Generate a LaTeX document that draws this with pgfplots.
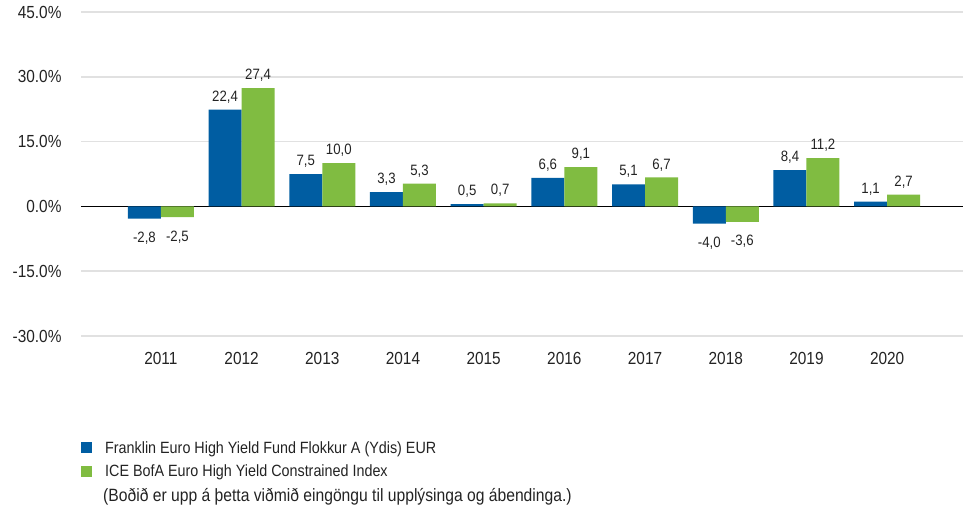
\documentclass[border=0pt]{standalone}
\usepackage{fontspec}
\setmainfont{Liberation Sans}[FakeStretch=0.88]
\usepackage{pgfplots}
\pgfplotsset{compat=1.18}
\definecolor{fblue}{RGB}{0,93,162}
\definecolor{fgreen}{RGB}{128,188,65}
\definecolor{gridgray}{RGB}{225,225,225}
\definecolor{txt}{RGB}{35,35,35}
\begin{document}
\begin{tikzpicture}[x=1pt,y=1pt]
\path[use as bounding box] (0,0) rectangle (963,507);
\begin{axis}[
  at={(81pt,171pt)}, anchor=south west,
  scale only axis, width=882pt, height=324pt,
  xmin=-0.99, xmax=9.94, ymin=-30, ymax=45,
  ytick={-30,-15,0,15,30,45},
  xtick={0,1,2,3,4,5,6,7,8,9},
  xticklabels={2011,2012,2013,2014,2015,2016,2017,2018,2019,2020},
  /pgf/number format/assume math mode=true,
  yticklabel={\pgfmathprintnumber[fixed,fixed zerofill,precision=1]{\tick}\%},
  ticklabel style={font=\fontsize{17.5}{20}\selectfont, text=txt},
  yticklabel style={xshift=-16pt},
  xticklabel style={yshift=-13pt},
  axis line style={draw=none},
  major tick length=0pt,
  ymajorgrids, major grid style={gridgray, line width=1.5pt},
  extra y ticks={0}, extra y tick labels={},
  extra y tick style={grid=major, major grid style={black, line width=0.9pt}},
  ybar=0pt, bar width=33pt,
  visualization depends on={rawy \as \rawyval},
  nodes near coords,
  nodes near coords style={font=\fontsize{15}{17}\selectfont, text=txt,
    yshift={ifthenelse(\rawyval<0,-10,3)},
    /pgf/number format/.cd, fixed, fixed zerofill, precision=1, use comma, assume math mode=true},
  legend style={at={(rel axis cs:0,0)}, anchor=north west, xshift=0pt, yshift=-103pt,
    draw=none, fill=none, font=\fontsize{16.3}{19}\selectfont, text=txt,
    row sep=6pt, column sep=11pt, inner sep=0pt, cells={anchor=west, inner sep=0pt}},
  legend image code/.code={\fill[#1] (0pt,-5.5pt) rectangle (11pt,5.5pt);},
  clip=false,
]
\addplot[fill=fblue, draw=none] coordinates {(0,-2.8) (1,22.4) (2,7.5) (3,3.3) (4,0.5) (5,6.6) (6,5.1) (7,-4.0) (8,8.4) (9,1.1)};
\addplot[fill=fgreen, draw=none] coordinates {(0,-2.5) (1,27.4) (2,10.0) (3,5.3) (4,0.7) (5,9.1) (6,6.7) (7,-3.6) (8,11.2) (9,2.7)};
\legend{Franklin Euro High Yield Fund Flokkur A (Ydis) EUR, ICE BofA Euro High Yield Constrained Index}
\end{axis}
\node[anchor=west, font=\fontsize{17.8}{20}\selectfont, text=txt, inner sep=0pt] at (103,10) {(Boðið er upp á þetta viðmið eingöngu til upplýsinga og ábendinga.)};
\end{tikzpicture}
\end{document}
